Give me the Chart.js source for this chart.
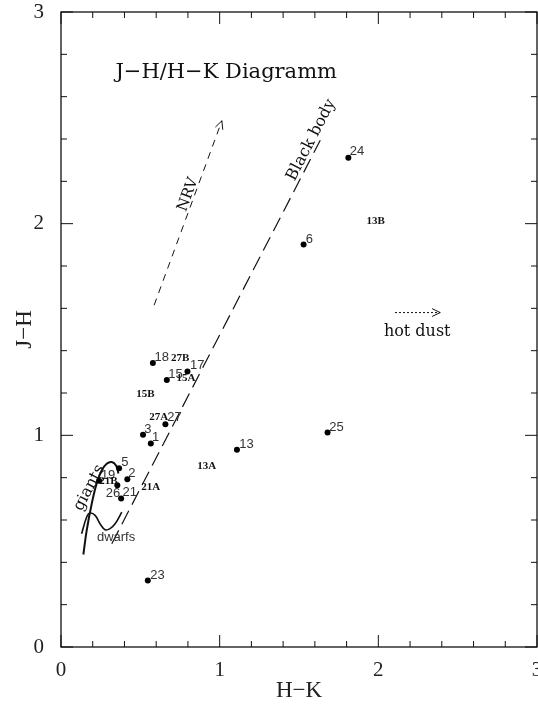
<!DOCTYPE html>
<html>
<head>
<meta charset="utf-8">
<script src="https://cdn.jsdelivr.net/npm/chart.js@4/dist/chart.umd.min.js"></script>
<style>
  html, body { margin: 0; padding: 0; background: #fff; }
</style>
</head>
<body>
<canvas id="jhk" width="538" height="705"></canvas>
<script>
// measured stars (H-K, J-H)
const starIds = ["18", "17", "15", "27", "3", "1", "5", "2", "19", "26", "21", "23", "13", "24", "6", "25"];
const starHK = [0.579, 0.797, 0.667, 0.658, 0.517, 0.566, 0.366, 0.418, 0.240, 0.355, 0.379, 0.547, 1.109, 1.811, 1.529, 1.680];
const starJH = [1.342, 1.301, 1.261, 1.052, 1.003, 0.962, 0.844, 0.792, 0.786, 0.764, 0.702, 0.314, 0.932, 2.311, 1.902, 1.013];
// where the star numbers are written
const idHK = [0.635, 0.858, 0.721, 0.715, 0.547, 0.597, 0.402, 0.446, 0.297, 0.328, 0.433, 0.608, 1.169, 1.866, 1.565, 1.737];
const idJH = [1.370, 1.332, 1.290, 1.085, 1.030, 0.991, 0.872, 0.822, 0.811, 0.726, 0.729, 0.338, 0.959, 2.339, 1.927, 1.039];

// components (label only)
const compIds = ["27B", "15A", "15B", "27A", "13A", "21A", "21B", "13B"];
const compHK = [0.751, 0.787, 0.532, 0.616, 0.919, 0.566, 0.299, 1.983];
const compJH = [1.366, 1.271, 1.195, 1.084, 0.855, 0.754, 0.784, 2.013];

// reference lines
const bbHK = [0.320, 1.634];
const bbJH = [0.488, 2.394];
const nrvHK = [0.587, 1.014];
const nrvJH = [1.615, 2.486];
const dustHK = [2.105, 2.390];
const dustJH = [1.580, 1.580];
const giantsHK = [0.141, 0.162, 0.194, 0.225, 0.257, 0.288, 0.320, 0.347, 0.362];
const giantsJH = [0.437, 0.551, 0.678, 0.773, 0.835, 0.866, 0.874, 0.858, 0.820];
const dwarfsHK = [0.130, 0.162, 0.183, 0.215, 0.246, 0.278, 0.309, 0.341, 0.383];
const dwarfsJH = [0.535, 0.614, 0.633, 0.622, 0.582, 0.554, 0.559, 0.582, 0.637];

const toPts = (xs, ys) => xs.map((v, i) => ({ x: v, y: ys[i] }));

function lineSet(xs, ys, dash, width, tension) {
  return {
    data: toPts(xs, ys),
    showLine: true,
    borderColor: "#111",
    borderWidth: width,
    borderDash: dash,
    tension: tension || 0,
    pointRadius: 0,
    pointHoverRadius: 0
  };
}

function arrowHead(ctx, x0, y0, x1, y1) {
  const ang = Math.atan2(y1 - y0, x1 - x0);
  const len = 9, spread = 0.45;
  ctx.beginPath();
  ctx.moveTo(x1 - len * Math.cos(ang - spread), y1 - len * Math.sin(ang - spread));
  ctx.lineTo(x1, y1);
  ctx.lineTo(x1 - len * Math.cos(ang + spread), y1 - len * Math.sin(ang + spread));
  ctx.stroke();
}

const decor = {
  id: "decor",
  afterDatasetsDraw(chart) {
    const { ctx, chartArea: a, scales: { x, y } } = chart;
    const px = v => x.getPixelForValue(v);
    const py = v => y.getPixelForValue(v);
    ctx.save();

    // frame with inward ticks on all four sides
    ctx.strokeStyle = "#111";
    ctx.lineWidth = 1.3;
    ctx.strokeRect(a.left, a.top, a.right - a.left, a.bottom - a.top);
    ctx.lineWidth = 1;
    for (let i = 0; i <= 15; i++) {
      const v = i / 5, len = i % 5 === 0 ? 12 : 6;
      const tx = px(v), ty = py(v);
      ctx.beginPath();
      ctx.moveTo(tx, a.bottom); ctx.lineTo(tx, a.bottom - len);
      ctx.moveTo(tx, a.top); ctx.lineTo(tx, a.top + len);
      ctx.moveTo(a.left, ty); ctx.lineTo(a.left + len, ty);
      ctx.moveTo(a.right, ty); ctx.lineTo(a.right - len, ty);
      ctx.stroke();
    }

    // arrow heads
    ctx.lineWidth = 1;
    arrowHead(ctx, px(nrvHK[0]), py(nrvJH[0]), px(nrvHK[1]), py(nrvJH[1]));
    arrowHead(ctx, px(dustHK[0]), py(dustJH[0]), px(dustHK[1]), py(dustJH[1]));

    const text = (s, hx, jy, font, color, rot) => {
      ctx.save();
      ctx.translate(px(hx), py(jy));
      if (rot) ctx.rotate(rot);
      ctx.font = font;
      ctx.fillStyle = color;
      ctx.textAlign = "center";
      ctx.textBaseline = "middle";
      ctx.fillText(s, 0, 0);
      ctx.restore();
    };

    starIds.forEach((s, i) => text(s, idHK[i], idJH[i], "13px 'Liberation Sans'", "#333"));
    compIds.forEach((s, i) => text(s, compHK[i], compJH[i], "bold 11px 'Liberation Serif'", "#111"));

    const serif = "'DejaVu Serif'";
    text("J\u2212H/H\u2212K Diagramm", 1.041, 2.716, "21px " + serif, "#111");
    text("hot dust", 2.245, 1.49, "16px " + serif, "#111");
    text("Black body", 1.577, 2.395, "16px " + serif, "#111", -62.7 * Math.PI / 180);
    text("NRV", 0.801, 2.137, "15px " + serif, "#111", -69.8 * Math.PI / 180);
    text("giants", 0.178, 0.752, "16px " + serif, "#111", -62.5 * Math.PI / 180);
    text("dwarfs", 0.347, 0.519, "13px 'Liberation Sans'", "#333");

    // axis titles
    ctx.fillStyle = "#222";
    ctx.font = "23px 'Liberation Serif'";
    ctx.textAlign = "center";
    ctx.textBaseline = "middle";
    ctx.fillText("H\u2212K", (a.left + a.right) / 2, 691);
    ctx.translate(25, (a.top + a.bottom) / 2);
    ctx.rotate(-Math.PI / 2);
    ctx.fillText("J\u2212H", 0, 0);
    ctx.restore();
  }
};

new Chart(document.getElementById("jhk"), {
  type: "scatter",
  data: {
    datasets: [
      {
        data: toPts(starHK, starJH),
        pointRadius: 3,
        pointBorderWidth: 0,
        backgroundColor: "#000"
      },
      lineSet(bbHK, bbJH, [15, 7], 1.2),
      lineSet(nrvHK, nrvJH, [7, 6], 1),
      lineSet(dustHK, dustJH, [2, 2], 1),
      lineSet(giantsHK, giantsJH, [], 2, 0.4),
      lineSet(dwarfsHK, dwarfsJH, [], 1.6, 0.4)
    ]
  },
  options: {
    responsive: false,
    animation: false,
    layout: { autoPadding: false, padding: { top: 12, right: 1, left: 0, bottom: 0 } },
    plugins: { legend: { display: false }, tooltip: { enabled: false } },
    scales: {
      x: {
        type: "linear", min: 0, max: 3,
        grid: { display: false },
        border: { display: false },
        ticks: {
          stepSize: 1, padding: 3, color: "#222",
          font: { family: "'Liberation Serif'", size: 21 }
        },
        afterFit(s) { s.height = 58; s.paddingLeft = 0; s.paddingRight = 0; }
      },
      y: {
        type: "linear", min: 0, max: 3,
        grid: { display: false },
        border: { display: false },
        ticks: {
          stepSize: 1, padding: 9, color: "#222",
          font: { family: "'Liberation Serif'", size: 21 }
        },
        afterFit(s) { s.width = 61; s.paddingTop = 0; s.paddingBottom = 0; }
      }
    }
  },
  plugins: [decor]
});
</script>
</body>
</html>
